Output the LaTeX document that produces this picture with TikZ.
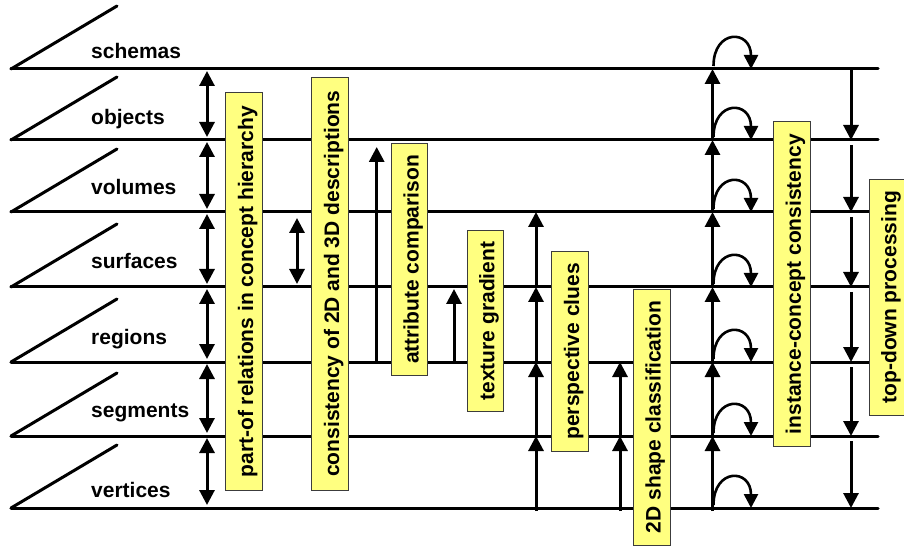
\documentclass[tikz,border=0pt]{standalone}
\usepackage{fontspec}
\setmainfont{Liberation Sans}[BoldFont={Liberation Sans Bold}]
\usetikzlibrary{arrows.meta}

\definecolor{tagfill}{HTML}{FFFF80}
\definecolor{tagedge}{HTML}{3C3C3C}

\tikzset{
  bigtip/.tip={Triangle[width=15bp,length=15bp]},
  arctip/.tip={Triangle[width=14bp,length=14bp]},
  levelline/.style={line width=3bp, line cap=round},
  shaft/.style={line width=3bp},
  curlarrow/.style={line width=2.6bp, -arctip},
  lbl/.style={font=\bfseries\fontsize{21bp}{24bp}\selectfont, anchor=base west, inner sep=0pt},
  tagbox/.style={draw=tagedge, line width=0.9bp, fill=tagfill, rotate=90,
    font=\bfseries\fontsize{21bp}{24bp}\selectfont, inner sep=0pt,
    minimum height=36.6bp, text height=18bp, text depth=0bp},
}

\begin{document}
\begin{tikzpicture}[x=1bp, y=-1bp]
\useasboundingbox (0,0) rectangle (904,546);

% level lines
\coordinate (lv1) at (11,69);
\coordinate (lv2) at (11,140);
\coordinate (lv3) at (11,212);
\coordinate (lv4) at (11,287);
\coordinate (lv5) at (11,362);
\coordinate (lv6) at (11,436);
\coordinate (lv7) at (11,508);
\coordinate (rim) at (878,0);

% columns of arrows
\coordinate (cA) at (207,0);
\coordinate (cB) at (297,0);
\coordinate (cC) at (376.7,0);
\coordinate (cD) at (454,0);
\coordinate (cE) at (536,0);
\coordinate (cF) at (620,0);
\coordinate (cG) at (712.5,0);
\coordinate (cH) at (851,0);
\coordinate (cArc) at (751,0);

\foreach \i in {1,...,7}{
  \draw[levelline] (lv\i) -- (lv\i -| rim);
  \draw[levelline] (lv\i) -- ++(106,-63);
}

% level names
\node[lbl] (n-schemas)  at (91,59)  {schemas};
\node[lbl] (n-objects)  at (91,125) {objects};
\node[lbl] (n-volumes)  at (91,195) {volumes};
\node[lbl] (n-surfaces) at (91,269) {surfaces};
\node[lbl] (n-regions)  at (91,345) {regions};
\node[lbl] (n-segments) at (91,417) {segments};
\node[lbl] (n-vertices) at (91,497) {vertices};

% part-of relations between neighbouring levels
\foreach \i/\j in {1/2,2/3,3/4,4/5,5/6,6/7}{
  \draw[shaft, bigtip-bigtip, shorten <=2bp, shorten >=3bp] (cA |- lv\i) -- (cA |- lv\j);
}

% 2D/3D consistency
\draw[shaft, bigtip-bigtip, shorten <=6bp, shorten >=3bp] (cB |- lv3) -- (cB |- lv4);

% attribute comparison
\draw[shaft, -bigtip, shorten >=7bp] (cC |- lv5) -- (cC |- lv2);

% texture gradient
\draw[shaft, -bigtip, shorten >=2bp] (cD |- lv5) -- (cD |- lv4);

% perspective clues
\draw[shaft, -bigtip, shorten <=-3bp] (cE |- lv7) -- (cE |- lv6);
\foreach \i/\j in {6/5,5/4,4/3}{
  \draw[shaft, -bigtip] (cE |- lv\i) -- (cE |- lv\j);
}

% 2D shape classification
\draw[shaft, -bigtip, shorten <=-3bp] (cF |- lv7) -- (cF |- lv6);
\draw[shaft, -bigtip] (cF |- lv6) -- (cF |- lv5);

% instance-concept consistency
\draw[shaft, -bigtip, shorten <=-3bp] (cG |- lv7) -- (cG |- lv6);
\foreach \i/\j in {6/5,5/4,4/3,3/2,2/1}{
  \draw[shaft, -bigtip] (cG |- lv\i) -- (cG |- lv\j);
}
% self-loops (yshift is measured upwards on the page)
\foreach \i in {1,...,7}{
  \draw[curlarrow] ([xshift=1bp,yshift=3bp]cG |- lv\i)
     .. controls ([xshift=1bp,yshift=40bp]cG |- lv\i) and ([yshift=40bp]cArc |- lv\i)
     .. (cArc |- lv\i);
}

% top-down processing
\draw[shaft, -bigtip] (cH |- lv1) -- (cH |- lv2);
\foreach \i/\j in {2/3,3/4,4/5,5/6,6/7}{
  \draw[shaft, -bigtip, shorten <=5bp] (cH |- lv\i) -- (cH |- lv\j);
}

% labelled processes
\node[tagbox, minimum width=398bp]   (b1) at (244,291.8)   {part-of relations in concept hierarchy};
\node[tagbox, minimum width=412.7bp] (b2) at (330,283.7)   {consistency of 2D and 3D descriptions};
\node[tagbox, minimum width=232.4bp] (b3) at (409.5,259.5) {attribute comparison};
\node[tagbox, minimum width=181.4bp] (b4) at (485.3,321)   {texture gradient};
\node[tagbox, minimum width=199.3bp] (b5) at (570,351.4)   {perspective clues};
\node[tagbox, minimum width=256bp]   (b6) at (651.7,417)   {2D shape classification};
\node[tagbox, minimum width=325bp]   (b7) at (791.9,284.2) {instance-concept consistency};
\node[tagbox, minimum width=235.7bp] (b8) at (887.3,297.2) {top-down processing};
\end{tikzpicture}
\end{document}
